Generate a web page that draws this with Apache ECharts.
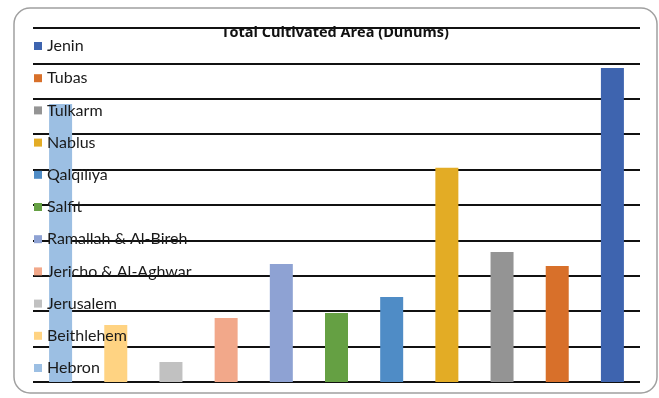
<!DOCTYPE html>
<html>
<head>
<meta charset="utf-8">
<script src="https://cdn.jsdelivr.net/npm/echarts@6/dist/echarts.min.js"></script>
<style>
html,body{margin:0;padding:0;background:#fff;}
#chart{width:659px;height:398px;}
</style>
</head>
<body>
<div id="chart"></div>
<script>
var categories = ["Hebron","Beithlehem","Jerusalem","Jericho & Al-Aghwar","Ramallah & Al-Bireh","Salfit","Qalqiliya","Nablus","Tulkarm","Tubas","Jenin"];
var values = [157000, 32200, 11300, 36200, 66700, 39000, 48000, 121000, 73400, 65500, 177400];
var colors = ["#9CBFE3","#FFD382","#C1C1C1","#F2A88A","#8EA2D3","#65A043","#4F8CC6","#E3AC25","#949494","#D8702A","#3E64AF"];
var legendOrder = ["Jenin","Tubas","Tulkarm","Nablus","Qalqiliya","Salfit","Ramallah & Al-Bireh","Jericho & Al-Aghwar","Jerusalem","Beithlehem","Hebron"];
var titleText = "Total Cultivated Area (Dunums)";

var chart = echarts.init(document.getElementById('chart'));
var series = categories.map(function(name, i){
  var d = categories.map(function(c, j){ return j === i ? values[i] : null; });
  return {
    name: name, type: 'bar', stack: 'all', data: d, barWidth: 23,
    itemStyle: { color: colors[i] }
  };
});
chart.setOption({
  animation: false,
  backgroundColor: '#fff',
  graphic: [
    { type: 'rect', shape: { x: 14, y: 8, width: 643, height: 385, r: 16 },
      style: { fill: 'none', stroke: '#a0a0a0', lineWidth: 1.5 }, z: 0 },
    { type: 'text', x: 335, y: 25, z: 10,
      style: { text: titleText, align: 'center', verticalAlign: 'top',
        font: 'bold 14.5px "Open Sans", sans-serif', fill: '#111' } }
  ],
  legend: {
    orient: 'vertical', left: 29, top: 32,
    data: legendOrder, icon: 'rect', itemWidth: 8, itemHeight: 8,
    itemGap: 14.2,
    textStyle: { fontFamily: 'Lato', fontSize: 16, color: '#1a1a1a', lineHeight: 18 }
  },
  grid: { left: 33, right: 19, top: 28, bottom: 16, containLabel: false },
  xAxis: {
    type: 'category', data: categories,
    axisLine: { show: false }, axisTick: { show: false }, axisLabel: { show: false }
  },
  yAxis: {
    type: 'value', min: 0, max: 200000, interval: 20000,
    axisLine: { show: false }, axisTick: { show: false }, axisLabel: { show: false },
    splitLine: { lineStyle: { color: '#111', width: 2 } }
  },
  series: series
});
</script>
</body>
</html>
